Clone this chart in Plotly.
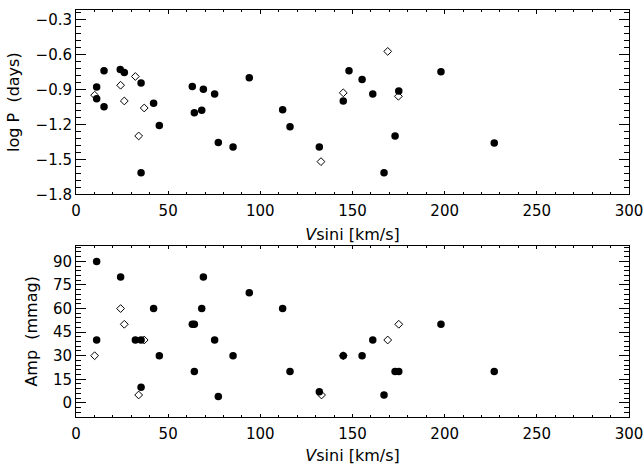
import plotly.graph_objects as go

# ---------------- data ----------------
# Upper panel: log P (days) vs v sini
top_filled_vsini = [11.2, 11.2, 15.2, 15.2, 24.0, 26.2, 35.3, 35.3, 42.1, 45.2,
                    63.1, 64.2, 68.2, 69.1, 75.2, 77.2, 85.2, 94.0, 112.1, 116.1,
                    132.0, 145.0, 148.1, 155.2, 161.0, 167.1, 173.1, 175.1, 198.0, 226.9]
top_filled_logp = [-0.88, -0.98, -0.74, -1.05, -0.73, -0.755, -0.845, -1.615, -1.02, -1.21,
                   -0.875, -1.10, -1.08, -0.90, -0.94, -1.355, -1.395, -0.80, -1.075, -1.22,
                   -1.395, -1.00, -0.74, -0.815, -0.94, -1.615, -1.30, -0.915, -0.75, -1.36]
top_open_vsini = [10.1, 24.2, 26.2, 32.2, 34.0, 37.0, 132.9, 145.0, 169.1, 174.9]
top_open_logp = [-0.95, -0.865, -1.00, -0.79, -1.30, -1.06, -1.52, -0.93, -0.575, -0.96]

# Lower panel: amplitude (mmag) vs v sini
bot_filled_vsini = [11.2, 11.2, 24.2, 32.2, 35.3, 35.3, 42.1, 45.2, 63.1, 64.2,
                    64.2, 68.2, 69.1, 75.2, 77.2, 85.2, 94.0, 112.1, 116.1, 132.0,
                    145.0, 155.2, 161.0, 167.1, 173.1, 175.1, 198.0, 226.9]
bot_filled_amp = [90, 40, 80, 40, 40, 10, 60, 30, 50, 50,
                  20, 60, 80, 40, 4, 30, 70, 60, 20, 7,
                  30, 30, 40, 5, 20, 20, 50, 20]
bot_open_vsini = [10.1, 24.2, 26.2, 34.0, 37.0, 133.2, 145.0, 169.1, 175.1]
bot_open_amp = [30, 60, 50, 5, 40, 5, 30, 40, 50]

x_tickvals = [0, 50, 100, 150, 200, 250, 300]
top_tickvals = [-1.8, -1.5, -1.2, -0.9, -0.6, -0.3]
bot_tickvals = [0, 15, 30, 45, 60, 75, 90]

# ---------------- figure ----------------
FONT = "DejaVu Sans"
TICK = dict(family=FONT, size=15, color="black")
TITLE = dict(family=FONT, size=16, color="black")
fig = go.Figure()

filled = dict(symbol="circle", size=7.5, color="black", line=dict(width=0))
opened = dict(symbol="diamond-open", size=6, color="black", line=dict(width=1, color="black"))

fig.add_trace(go.Scatter(x=top_filled_vsini, y=top_filled_logp, mode="markers",
                         marker=filled, xaxis="x", yaxis="y", showlegend=False))
fig.add_trace(go.Scatter(x=top_open_vsini, y=top_open_logp, mode="markers",
                         marker=opened, xaxis="x", yaxis="y", showlegend=False))
fig.add_trace(go.Scatter(x=bot_filled_vsini, y=bot_filled_amp, mode="markers",
                         marker=filled, xaxis="x2", yaxis="y2", showlegend=False))
fig.add_trace(go.Scatter(x=bot_open_vsini, y=bot_open_amp, mode="markers",
                         marker=opened, xaxis="x2", yaxis="y2", showlegend=False))

xcommon = dict(range=[0, 300], tickvals=x_tickvals, ticks="inside", ticklen=3.5,
               tickwidth=1, tickcolor="black", mirror="allticks", showline=True,
               linecolor="black", linewidth=1, showgrid=False, zeroline=False,
               ticklabelstandoff=3, automargin=False,
               minor=dict(dtick=10, tick0=0, ticks="inside", ticklen=2, tickcolor="black",
                          tickwidth=1, showgrid=False),
               tickfont=TICK,
               title=dict(text="<i>V</i>sini [km/s]", font=TITLE, standoff=9))
ycommon = dict(ticks="inside", ticklen=10, tickwidth=1, tickcolor="black", mirror="allticks",
               showline=True, linecolor="black", linewidth=1, showgrid=False, zeroline=False,
               automargin=False, tickfont=TICK)

fig.update_layout(
    width=644, height=465,
    margin=dict(l=76, r=15, t=10, b=48),
    plot_bgcolor="white", paper_bgcolor="white",
    xaxis=dict(xcommon, domain=[0, 1], anchor="y"),
    yaxis=dict(ycommon, domain=[0.5472, 1], anchor="x", range=[-1.8, -0.22],
               tickvals=top_tickvals,
               ticktext=["\u22121.8", "\u22121.5", "\u22121.2", "\u22120.9", "\u22120.6", "\u22120.3"],
               minor=dict(dtick=0.06, tick0=-1.8, ticks="inside", ticklen=5, tickcolor="black",
                          tickwidth=1, showgrid=False),
               title=dict(text="log P  (days)", font=TITLE, standoff=11)),
    xaxis2=dict(xcommon, domain=[0, 1], anchor="y2"),
    yaxis2=dict(ycommon, domain=[0, 0.4209], anchor="x2", range=[-9, 100],
                tickvals=bot_tickvals,
                minor=dict(dtick=3, tick0=0, ticks="inside", ticklen=5, tickcolor="black",
                           tickwidth=1, showgrid=False),
                title=dict(text="Amp  (mmag)", font=TITLE, standoff=11)),
)

fig.write_html("out.html")
